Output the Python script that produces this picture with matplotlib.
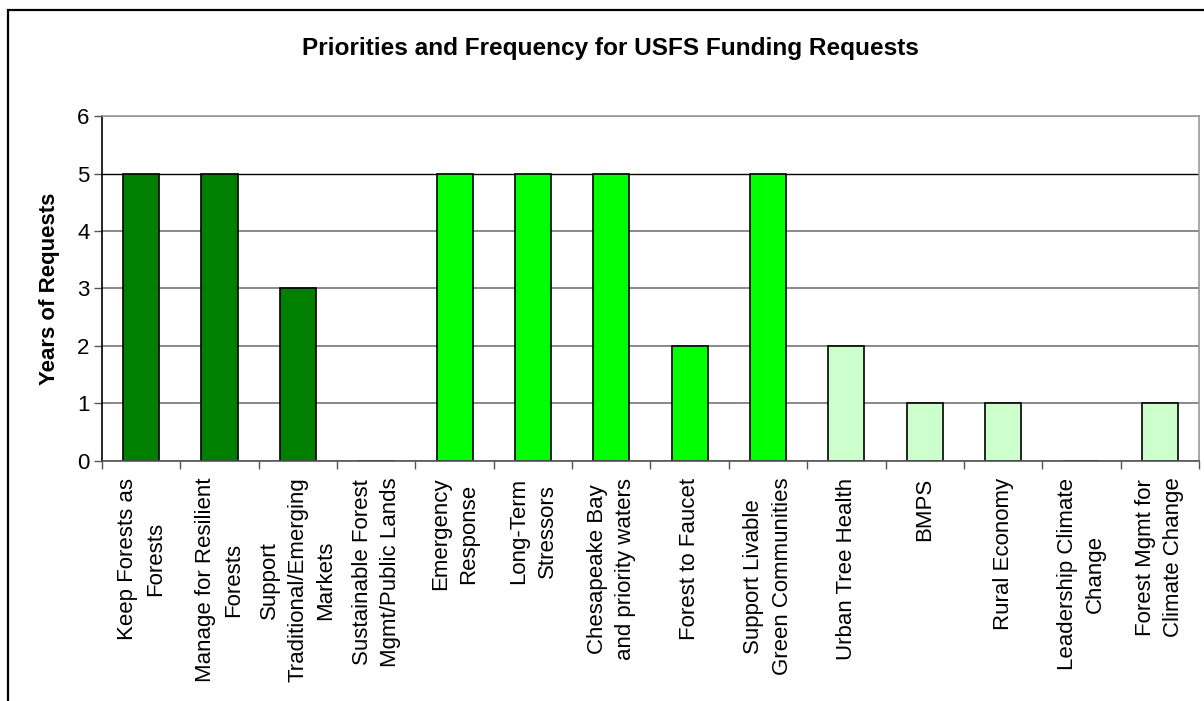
import numpy as np
import matplotlib
matplotlib.use("Agg")
import matplotlib.pyplot as plt
from matplotlib.patches import Rectangle

plt.rcParams['font.family'] = ['Liberation Sans', 'DejaVu Sans']

# Funding request priorities and number of years each was requested
categories = [
    "Keep Forests as\nForests",
    "Manage for Resilient\nForests",
    "Support\nTraditional/Emerging\nMarkets",
    "Sustainable Forest\nMgmt/Public Lands",
    "Emergency\nResponse",
    "Long-Term\nStressors",
    "Chesapeake Bay\nand priority waters",
    "Forest to Faucet",
    "Support Livable\nGreen Communities",
    "Urban Tree Health",
    "BMPS",
    "Rural Economy",
    "Leadership Climate\nChange",
    "Forest Mgmt for\nClimate Change",
]
years = [5, 5, 3, 0, 5, 5, 5, 2, 5, 2, 1, 1, 0, 1]
groups = ["forest"] * 4 + ["water"] * 5 + ["community"] * 5
group_colors = {"forest": "#007F00", "water": "#00FF00", "community": "#CCFFCC"}

fig = plt.figure(figsize=(12.04, 7.01), dpi=100)
ax = fig.add_axes([0.0847, 0.3424, 0.9111, 0.4921])

x = np.arange(len(categories))
ax.bar(x, years, width=0.46, color=[group_colors[g] for g in groups],
       edgecolor="black", linewidth=1.2, zorder=3)

ax.set_xlim(-0.5, len(categories) - 0.5)
ax.set_ylim(0, 6)
ax.set_yticks(range(0, 7))

# category labels sit between the boundary tick marks
ax.set_xticks(x)
ax.set_xticklabels(categories, rotation=90, ha="center", va="top",
                   multialignment="center", linespacing=1.45)
ax.set_xticks(np.arange(-0.5, len(categories)), minor=True)
ax.tick_params(axis="x", which="major", length=0, pad=12, labelsize=16)
ax.tick_params(axis="x", which="minor", length=6, width=1, color="#555555")
ax.tick_params(axis="y", length=6, width=1, pad=3, labelsize=16, color="#555555")

ax.yaxis.grid(True, color="#808080", linewidth=1.3, zorder=0)
ax.get_ygridlines()[5].set_color("black")
ax.get_ygridlines()[5].set_linewidth(1.0)
ax.set_axisbelow(True)

ax.spines["left"].set_color("black")
ax.spines["bottom"].set_color("#555555")
ax.spines["top"].set_color("#999999")
ax.spines["right"].set_color("#999999")
for s in ax.spines.values():
    s.set_linewidth(1.2)
ax.spines["bottom"].set_zorder(4)

ax.set_ylabel("Years of Requests", fontsize=16, fontweight="bold", labelpad=12)
fig.text(0.507, 0.931, "Priorities and Frequency for USFS Funding Requests",
         ha="center", va="center", fontsize=17.6, fontweight="bold")

# chart frame
fig.patches.append(Rectangle((8 / 1204, -0.1), 1.2, 1.1 - 9.5 / 701,
                             transform=fig.transFigure, fill=False,
                             edgecolor="black", linewidth=1.6))

fig.savefig("out.png", dpi=100)
